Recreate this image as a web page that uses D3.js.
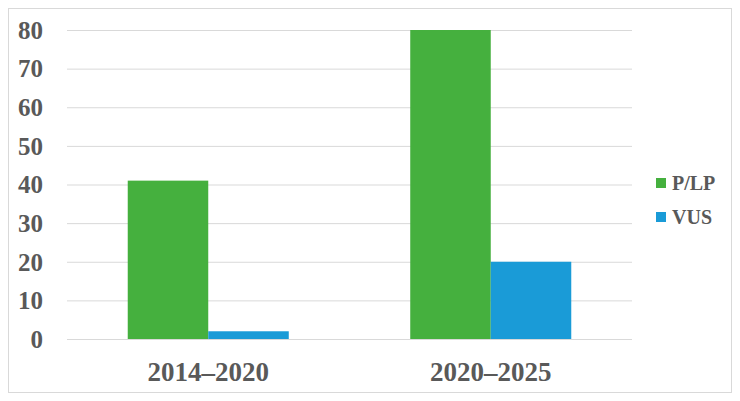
<!DOCTYPE html>
<html>
<head>
<meta charset="utf-8">
<script src="https://cdn.jsdelivr.net/npm/d3@7"></script>
<style>
  body { margin: 0; background: #fff; }
  text { font-family: "Liberation Serif", "Times New Roman", serif; font-weight: bold; fill: #595959; }
</style>
</head>
<body>
<svg id="chart" width="740" height="401"></svg>
<script>
// chart data
var periods = ["2014\u20132020", "2020\u20132025"];
var seriesNames = ["P/LP", "VUS"];
var plpValues = [41, 80];
var vusValues = [2, 20];
var yTicks = [0, 10, 20, 30, 40, 50, 60, 70, 80];
var colors = ["#45b03e", "#1a9bd7"];

var svg = d3.select("#chart");

// outer frame
svg.append("rect")
    .attr("x", 8.5).attr("y", 8.5)
    .attr("width", 723).attr("height", 384)
    .attr("fill", "#fff")
    .attr("stroke", "#d9d9d9");

var margin = { left: 67, right: 108, top: 30, bottom: 62 };
var width = 740 - margin.left - margin.right,
    height = 401 - margin.top - margin.bottom;

var g = svg.append("g")
    .attr("transform", "translate(" + margin.left + "," + margin.top + ")");

var x0 = d3.scaleBand().domain(periods).range([0, width]).paddingInner(0).paddingOuter(0);
var x1 = d3.scaleBand().domain(seriesNames).range([0, x0.bandwidth() * 0.57]);
var y = d3.scaleLinear().domain([0, 80]).range([height, 0]);

// gridlines
g.append("g").selectAll("line")
    .data(yTicks)
    .enter().append("line")
    .attr("x1", 0).attr("x2", width)
    .attr("y1", function(d) { return y(d) + 0.5; })
    .attr("y2", function(d) { return y(d) + 0.5; })
    .attr("stroke", "#d9d9d9")
    .attr("stroke-width", 1);

// y tick labels
g.append("g").selectAll("text")
    .data(yTicks)
    .enter().append("text")
    .attr("x", -24)
    .attr("y", function(d) { return y(d); })
    .attr("dy", "0.35em")
    .attr("text-anchor", "end")
    .style("font-size", "25px")
    .text(function(d) { return d; });

// bars
var rows = periods.map(function(p, i) {
    return { period: p, values: [plpValues[i], vusValues[i]] };
});

var groups = g.append("g").selectAll("g")
    .data(rows)
    .enter().append("g")
    .attr("transform", function(d) {
        return "translate(" + (x0(d.period) + (x0.bandwidth() - x1.range()[1]) / 2) + ",0)";
    });

groups.selectAll("rect")
    .data(function(d) { return d.values.map(function(v, j) { return { name: seriesNames[j], value: v, idx: j }; }); })
    .enter().append("rect")
    .attr("x", function(d) { return x1(d.name); })
    .attr("width", x1.bandwidth())
    .attr("y", function(d) { return y(d.value); })
    .attr("height", function(d) { return height - y(d.value); })
    .attr("fill", function(d) { return colors[d.idx]; });

// category labels
g.append("g").selectAll("text")
    .data(periods)
    .enter().append("text")
    .attr("x", function(d) { return x0(d) + x0.bandwidth() / 2; })
    .attr("y", height + 42)
    .attr("text-anchor", "middle")
    .style("font-size", "27px")
    .text(function(d) { return d; });

// legend
var legend = svg.append("g").selectAll("g")
    .data(seriesNames)
    .enter().append("g")
    .attr("transform", function(d, i) { return "translate(656," + (183 + i * 34) + ")"; });

legend.append("rect")
    .attr("x", 0).attr("y", -5)
    .attr("width", 10).attr("height", 10)
    .attr("fill", function(d, i) { return colors[i]; });

legend.append("text")
    .attr("x", 16)
    .attr("y", 0)
    .attr("dy", "0.35em")
    .style("font-size", "20px")
    .text(function(d) { return d; });
</script>
</body>
</html>
